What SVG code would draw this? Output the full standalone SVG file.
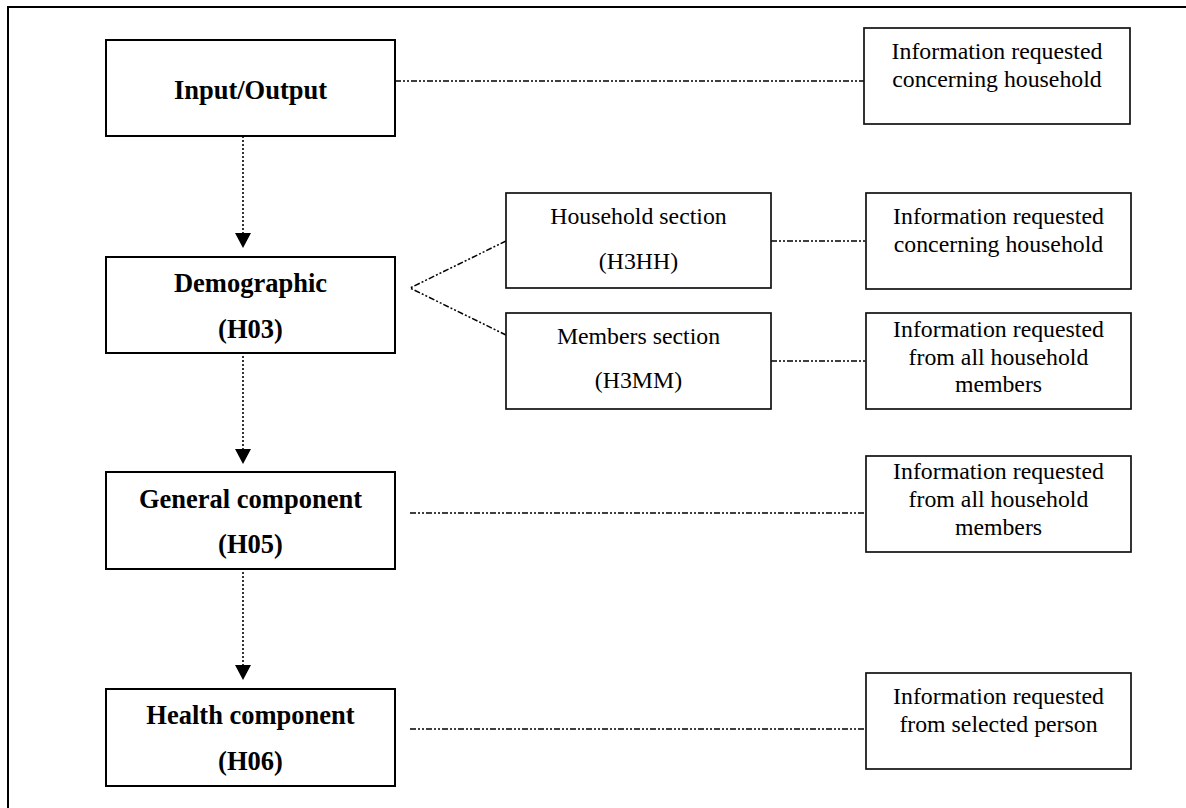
<svg xmlns="http://www.w3.org/2000/svg" width="1186" height="808" viewBox="0 0 1186 808">
<style>
.main{fill:#fff;stroke:#000;stroke-width:2}
.sub{fill:#fff;stroke:#111;stroke-width:1.7}
.b{font-family:"Liberation Serif","Times New Roman",serif;font-weight:bold;font-size:26.5px;text-anchor:middle;fill:#000}
.r{font-family:"Liberation Serif","Times New Roman",serif;font-size:23.8px;text-anchor:middle;fill:#000}
.dd{fill:none;stroke:#000;stroke-width:1.5;stroke-dasharray:6 2 2 2 2 2}
.dot{fill:none;stroke:#000;stroke-width:1.6;stroke-dasharray:2 2}
.head{fill:#000}
</style>
<rect width="1186" height="808" fill="#fff"/>
<g id="frame">
<line x1="8" y1="7" x2="1186" y2="7" stroke="#000" stroke-width="2"/>
<line x1="8" y1="6" x2="8" y2="808" stroke="#000" stroke-width="2"/>
</g>
<g id="connectors">
<line class="dd" x1="395" y1="81" x2="864" y2="81"/>
<polyline class="dd" points="506,241 410,288 506,335"/>
<line class="dd" x1="771" y1="241" x2="866" y2="241"/>
<line class="dd" x1="771" y1="361" x2="866" y2="361"/>
<line class="dd" x1="410" y1="513" x2="866" y2="513"/>
<line class="dd" x1="410" y1="729" x2="866" y2="729"/>
<line class="dot" x1="243" y1="128" x2="243" y2="234"/>
<polygon class="head" points="235,233 251,233 243,248"/>
<line class="dot" x1="243" y1="344" x2="243" y2="450"/>
<polygon class="head" points="235,449 251,449 243,464"/>
<line class="dot" x1="243" y1="560" x2="243" y2="666"/>
<polygon class="head" points="235,665 251,665 243,680"/>
</g>
<g id="input-output">
<rect class="main" x="106" y="40" width="289" height="96"/>
<text class="b" x="250.5" y="99">Input/Output</text>
</g>
<g id="demographic">
<rect class="main" x="106" y="257" width="289" height="96"/>
<text class="b" x="250.5" y="292">Demographic</text>
<text class="b" x="250.5" y="338">(H03)</text>
</g>
<g id="general">
<rect class="main" x="106" y="472" width="289" height="97"/>
<text class="b" x="250.5" y="508">General component</text>
<text class="b" x="250.5" y="553">(H05)</text>
</g>
<g id="health">
<rect class="main" x="106" y="689" width="289" height="97"/>
<text class="b" x="250.5" y="724">Health component</text>
<text class="b" x="250.5" y="770">(H06)</text>
</g>
<g id="household-section">
<rect class="sub" x="506" y="193" width="265" height="95"/>
<text class="r" x="638.5" y="224">Household section</text>
<text class="r" x="638.5" y="269">(H3HH)</text>
</g>
<g id="members-section">
<rect class="sub" x="506" y="313" width="265" height="96"/>
<text class="r" x="638.5" y="344">Members section</text>
<text class="r" x="638.5" y="388">(H3MM)</text>
</g>
<g id="info-1">
<rect class="sub" x="864" y="28" width="266" height="96"/>
<text class="r" x="997" y="59">Information requested</text>
<text class="r" x="997" y="87">concerning household</text>
</g>
<g id="info-2">
<rect class="sub" x="866" y="193" width="265" height="96"/>
<text class="r" x="998.5" y="224">Information requested</text>
<text class="r" x="998.5" y="252">concerning household</text>
</g>
<g id="info-3">
<rect class="sub" x="866" y="313" width="265" height="96"/>
<text class="r" x="998.5" y="337">Information requested</text>
<text class="r" x="998.5" y="364.5">from all household</text>
<text class="r" x="998.5" y="392">members</text>
</g>
<g id="info-4">
<rect class="sub" x="866" y="456" width="265" height="96"/>
<text class="r" x="998.5" y="479">Information requested</text>
<text class="r" x="998.5" y="507">from all household</text>
<text class="r" x="998.5" y="535">members</text>
</g>
<g id="info-5">
<rect class="sub" x="866" y="673" width="265" height="96"/>
<text class="r" x="998.5" y="704">Information requested</text>
<text class="r" x="998.5" y="732">from selected person</text>
</g>
</svg>
